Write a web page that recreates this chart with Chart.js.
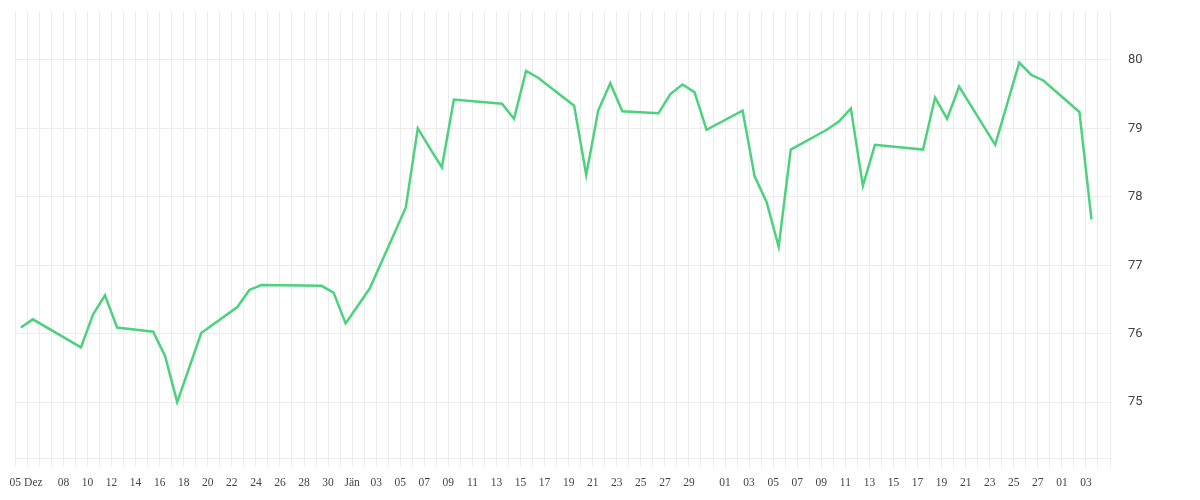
<!DOCTYPE html>
<html>
<head>
<meta charset="utf-8">
<script src="https://cdn.jsdelivr.net/npm/chart.js@4/dist/chart.umd.min.js"></script>
<style>
  html, body { margin: 0; background: #fff; }
  #wrap { width: 1200px; height: 500px; }
</style>
</head>
<body>
<div id="wrap"><canvas id="chart"></canvas></div>
<script>
// trading days (closing values)
const dates = [
  '2025-12-04', '2025-12-05', '2025-12-09', '2025-12-10', '2025-12-11', '2025-12-12',
  '2025-12-15', '2025-12-16', '2025-12-17', '2025-12-19', '2025-12-22', '2025-12-23',
  '2025-12-24', '2025-12-29', '2025-12-30', '2025-12-31', '2026-01-02', '2026-01-05',
  '2026-01-06', '2026-01-07', '2026-01-08', '2026-01-09', '2026-01-13', '2026-01-14',
  '2026-01-15', '2026-01-16', '2026-01-19', '2026-01-20', '2026-01-21', '2026-01-22',
  '2026-01-23', '2026-01-26', '2026-01-27', '2026-01-28', '2026-01-29', '2026-01-30',
  '2026-02-02', '2026-02-03', '2026-02-04', '2026-02-05', '2026-02-06', '2026-02-09',
  '2026-02-10', '2026-02-11', '2026-02-12', '2026-02-13', '2026-02-17', '2026-02-18',
  '2026-02-19', '2026-02-20', '2026-02-23', '2026-02-24', '2026-02-25', '2026-02-26',
  '2026-02-27', '2026-03-02', '2026-03-03'
];
const values = [
  76.09, 76.21, 75.80, 76.28, 76.56, 76.09,
  76.03, 75.67, 75.00, 76.01, 76.39, 76.64,
  76.71, 76.70, 76.60, 76.15, 76.66, 77.84,
  79.00, 78.71, 78.43, 79.42, 79.36, 79.14,
  79.84, 79.74, 79.33, 78.32, 79.26, 79.66,
  79.25, 79.22, 79.50, 79.64, 79.53, 78.98,
  79.26, 78.30, 77.92, 77.27, 78.69, 78.98,
  79.10, 79.29, 78.16, 78.76, 78.69, 79.45,
  79.14, 79.61, 78.76, 79.36, 79.96, 79.78,
  79.70, 79.24, 77.67
];

const xTickDates = [
  '2025-12-04', '2025-12-05T12:00', '2025-12-08', '2025-12-10', '2025-12-12', '2025-12-14',
  '2025-12-16', '2025-12-18', '2025-12-20', '2025-12-22', '2025-12-24', '2025-12-26',
  '2025-12-28', '2025-12-30', '2026-01-01', '2026-01-03', '2026-01-05', '2026-01-07',
  '2026-01-09', '2026-01-11', '2026-01-13', '2026-01-15', '2026-01-17', '2026-01-19',
  '2026-01-21', '2026-01-23', '2026-01-25', '2026-01-27', '2026-01-29', '2026-02-01',
  '2026-02-03', '2026-02-05', '2026-02-07', '2026-02-09', '2026-02-11', '2026-02-13',
  '2026-02-15', '2026-02-17', '2026-02-19', '2026-02-21', '2026-02-23', '2026-02-25',
  '2026-02-27', '2026-03-01', '2026-03-03'
];
const xTickLabels = [
  '05', 'Dez', '08', '10', '12', '14',
  '16', '18', '20', '22', '24', '26',
  '28', '30', 'Jän', '03', '05', '07',
  '09', '11', '13', '15', '17', '19',
  '21', '23', '25', '27', '29', '01',
  '03', '05', '07', '09', '11', '13',
  '15', '17', '19', '21', '23', '25',
  '27', '01', '03'
];
const yTicks = [75, 76, 77, 78, 79, 80];

const START = '2025-12-04';
const END = '2026-03-05';
const DAY = 86400000;
const ts = s => Date.parse(s + (s.length === 10 ? 'T00:00Z' : 'Z'));
const dayOf = s => (ts(s) - ts(START)) / DAY;
const SESSION = 11 / 24; // quotes sit late morning inside each day

const lastDay = dayOf(END);
const labelByDay = new Map(xTickDates.map((d, i) => [dayOf(d), xTickLabels[i]]));
const xTickValues = [...new Set([
  ...Array.from({ length: lastDay + 1 }, (_, i) => i),
  ...labelByDay.keys()
])].sort((a, b) => a - b);

const GRID = '#ececec';

new Chart(document.getElementById('chart'), {
  type: 'line',
  data: {
    datasets: [{
      data: dates.map((d, i) => ({ x: dayOf(d) + SESSION, y: values[i] })),
      borderColor: '#4cd27c',
      borderWidth: 2.5,
      pointRadius: 0,
      tension: 0,
      fill: false
    }]
  },
  options: {
    responsive: true,
    maintainAspectRatio: false,
    animation: false,
    layout: { padding: { left: 15.3, top: 12, right: 58, bottom: 10 } },
    plugins: { legend: { display: false }, tooltip: { enabled: false } },
    scales: {
      x: {
        type: 'linear',
        min: 0,
        max: lastDay,
        afterBuildTicks: s => { s.ticks = xTickValues.map(v => ({ value: v })); },
        afterFit: s => { s.height = 31.7; s.paddingLeft = 0; s.paddingRight = 0; },
        grid: {
          color: c => Number.isInteger(c.tick && c.tick.value) ? GRID : 'rgba(0,0,0,0)',
          tickLength: 9
        },
        border: { color: GRID },
        ticks: {
          autoSkip: false,
          maxRotation: 0,
          padding: 9,
          color: '#444',
          font: { family: '"Liberation Serif", serif', size: 11.5 },
          callback: v => labelByDay.get(v) || ''
        }
      },
      y: {
        position: 'right',
        min: 74.18,
        max: 80.7,
        afterBuildTicks: s => { s.ticks = yTicks.map(v => ({ value: v })); },
        afterFit: s => { s.width = 32; s.paddingTop = 0; s.paddingBottom = 0; },
        grid: { color: GRID, drawTicks: false },
        border: { color: GRID },
        ticks: {
          includeBounds: false,
          padding: 18,
          color: '#444',
          font: { family: 'Roboto, sans-serif', size: 13 }
        }
      }
    }
  }
});
</script>
</body>
</html>
